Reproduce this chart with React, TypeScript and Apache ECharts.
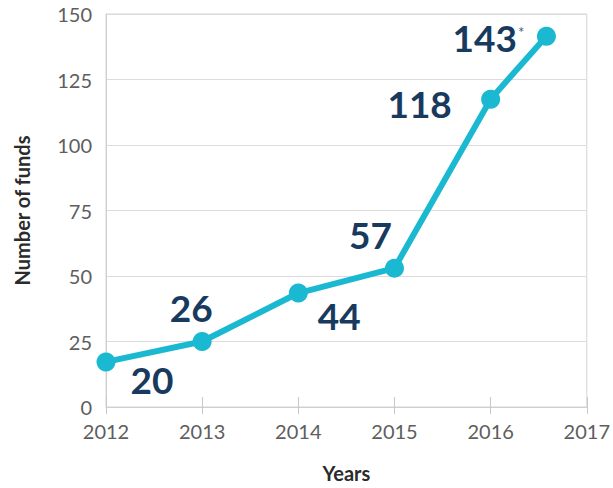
import React, { useEffect, useRef } from "react";
import * as echarts from "echarts";

// Data
const yearPositions = [2012, 2013, 2014, 2015, 2016, 2016.58];
const plottedLevels = [17.2, 25, 43.5, 53, 117.5, 141.5];
const fundLabels = ["20", "26", "44", "57", "118", "143"];
const footnoteMarks = ["", "", "", "", "", "*"];
const yTicks = [0, 25, 50, 75, 100, 125, 150];
const xTickYears = [2012, 2013, 2014, 2015, 2016, 2017];

// Layout (label offsets relative to each point)
const labelOffsets: [number, number][] = [
  [46, 18],
  [-11, -34],
  [41, 22],
  [-24, -34],
  [-71, 4],
  [-58, 1],
];

const CYAN = "#1bb9d1";
const NAVY = "#173a5e";
const FONT = "Lato, 'Open Sans', sans-serif";

export default function App() {
  const ref = useRef<HTMLDivElement>(null);
  useEffect(() => {
    if (!ref.current) return;
    const chart = echarts.init(ref.current, undefined, { renderer: "svg" });
    const data = yearPositions.map((x, i) => ({
      value: [x, plottedLevels[i]],
      label: {
        offset: labelOffsets[i],
      },
    }));
    chart.setOption({
      animation: false,
      backgroundColor: "#ffffff",
      grid: {
        left: 106,
        right: 26,
        top: 14,
        bottom: 78,
        show: true,
        borderColor: "#d4d4d4",
        borderWidth: 1,
      },
      xAxis: [
        {
          type: "value",
          min: 2012,
          max: 2017,
          interval: 1,
          name: "Years",
          nameLocation: "middle",
          nameGap: 56,
          nameTextStyle: { fontFamily: FONT, fontSize: 20, fontWeight: "bold", color: "#2b2b2b" },
          axisLine: { show: true, lineStyle: { color: "#d0d0d0", width: 1 } },
          axisTick: { show: true, inside: true, length: 10, lineStyle: { color: "#c8c8c8" } },
          axisLabel: {
            fontFamily: FONT,
            fontSize: 20,
            color: "#5e5e5e",
            margin: 14,
            formatter: (v: number) => (xTickYears.includes(v) ? String(v) : ""),
          },
          splitLine: { show: false },
        },
        {
          type: "value",
          min: 2012,
          max: 2017,
          interval: 1,
          position: "bottom",
          axisLine: { show: false },
          axisTick: { show: true, length: 7, lineStyle: { color: "#c8c8c8" } },
          axisLabel: { show: false },
          splitLine: { show: false },
        },
      ],
      yAxis: {
        type: "value",
        min: 0,
        max: 150,
        interval: 25,
        name: "Number of funds",
        nameLocation: "middle",
        nameGap: 74,
        nameTextStyle: { fontFamily: FONT, fontSize: 20, fontWeight: "bold", color: "#2b2b2b" },
        axisLine: { show: true, lineStyle: { color: "#d0d0d0" } },
        axisTick: { show: false },
        axisLabel: {
          fontFamily: FONT,
          fontSize: 20,
          color: "#5e5e5e",
          margin: 14,
          formatter: (v: number) => (yTicks.includes(v) ? String(v) : ""),
        },
        splitLine: { show: true, lineStyle: { color: "#dcdcdc", width: 1 } },
      },
      series: [
        {
          type: "line",
          xAxisIndex: 0,
          data,
          symbol: "circle",
          symbolSize: 19,
          lineStyle: { color: CYAN, width: 6 },
          itemStyle: { color: CYAN },
          label: {
            show: true,
            position: "inside",
            formatter: (p: any) =>
              footnoteMarks[p.dataIndex]
                ? `{v|${fundLabels[p.dataIndex]}}{s|${footnoteMarks[p.dataIndex]}}`
                : `{v|${fundLabels[p.dataIndex]}}`,
            rich: {
              v: { fontFamily: FONT, fontSize: 37, fontWeight: "bold", color: NAVY },
              s: {
                fontFamily: FONT,
                fontSize: 15,
                color: "#4a5a6e",
                verticalAlign: "top",
                padding: [6, 0, 0, 1],
              },
            },
          },
        },
      ],
    });
    return () => chart.dispose();
  }, []);
  return (
    <div
      ref={ref}
      style={{ position: "absolute", left: 0, top: 0, width: 613, height: 488 }}
    />
  );
}
